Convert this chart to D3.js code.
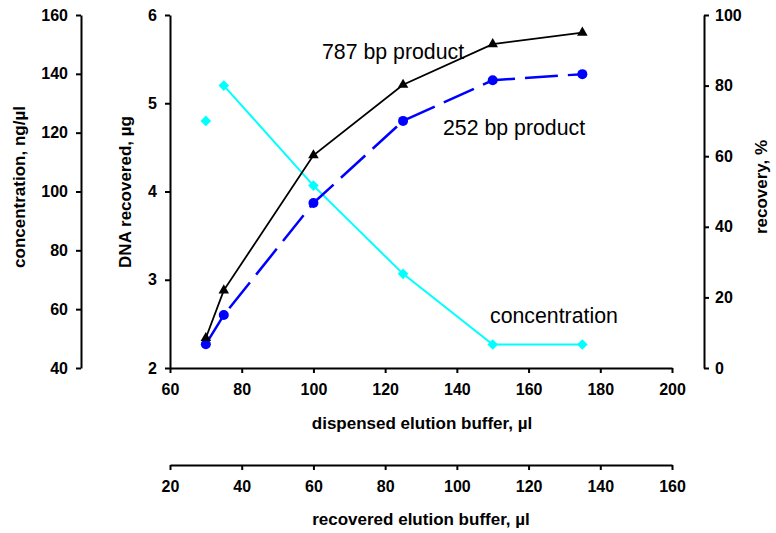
<!DOCTYPE html>
<html>
<head>
<meta charset="utf-8">
<script src="https://cdn.jsdelivr.net/npm/d3@7"></script>
<style>
  body { margin: 0; background: #fff; }
  svg { display: block; font-family: "Liberation Sans", Arial, sans-serif; }
  .axis text { font-family: "Liberation Sans", Arial, sans-serif; font-weight: bold; font-size: 16px; fill: #000; }
  .axis path, .axis line { stroke: #000; stroke-width: 2px; }
  .title { font-weight: bold; font-size: 17px; }
  .note { font-size: 21.3px; }
</style>
</head>
<body>
<script>
//Data.
const dispensed = [70, 75, 100, 125, 150, 175];
const dna787 = [2.34, 2.88, 4.41, 5.21, 5.67, 5.80];
const dna252 = [2.27, 2.60, 3.87, 4.80, 5.26, 5.33];
const concentration = [124, 136, 102, 72, 48, 48];

const xTicks = [60, 80, 100, 120, 140, 160, 180, 200];
const recTicks = [20, 40, 60, 80, 100, 120, 140, 160];
const concTicks = [40, 60, 80, 100, 120, 140, 160];
const dnaTicks = [2, 3, 4, 5, 6];
const recoveryTicks = [0, 20, 40, 60, 80, 100];

const width = 776, height = 533;
const plot = {left: 170, right: 672, top: 15, bottom: 368};

const svg = d3.select("body").append("svg").attr("width", width).attr("height", height);

//Scales.
const x = d3.scaleLinear().domain([60, 200]).range([plot.left, plot.right]);
const xRec = d3.scaleLinear().domain([20, 160]).range([plot.left, plot.right]);
const yDna = d3.scaleLinear().domain([2, 6]).range([plot.bottom, plot.top]);
const yConc = d3.scaleLinear().domain([40, 160]).range([plot.bottom, plot.top]);
const yRecovery = d3.scaleLinear().domain([0, 100]).range([plot.bottom, plot.top]);

function styleAxis(g) {
    g.attr("class", "axis").attr("font-family", null).attr("font-size", null);
}

//Left concentration axis.
svg.append("g")
.attr("transform", "translate(81,0)")
.call(d3.axisLeft(yConc).tickValues(concTicks).tickSize(5).tickSizeOuter(0).tickPadding(8))
.call(styleAxis);

//DNA axis.
svg.append("g")
.attr("transform", "translate(" + plot.left + ",0)")
.call(d3.axisLeft(yDna).tickValues(dnaTicks).tickFormat(d3.format("d")).tickSize(5).tickSizeOuter(0).tickPadding(8))
.call(styleAxis);

//Right recovery axis.
svg.append("g")
.attr("transform", "translate(704,0)")
.call(d3.axisRight(yRecovery).tickValues(recoveryTicks).tickSize(5).tickSizeOuter(0).tickPadding(6))
.call(styleAxis);

//Dispensed x axis.
svg.append("g")
.attr("transform", "translate(0," + plot.bottom + ")")
.call(d3.axisBottom(x).tickValues(xTicks).tickSize(5).tickSizeOuter(0).tickPadding(11))
.call(styleAxis);

//Recovered x axis.
svg.append("g")
.attr("transform", "translate(0,465)")
.call(d3.axisBottom(xRec).tickValues(recTicks).tickSize(5).tickSizeOuter(0).tickPadding(11))
.call(styleAxis);

//Axis titles.
svg.append("text").attr("class", "title").attr("text-anchor", "middle")
.attr("transform", "translate(25,187) rotate(-90)").text("concentration, ng/µl");
svg.append("text").attr("class", "title").attr("text-anchor", "middle")
.attr("transform", "translate(131,192) rotate(-90)").text("DNA recovered, µg");
svg.append("text").attr("class", "title").attr("text-anchor", "middle")
.attr("transform", "translate(767,187) rotate(-90)").text("recovery, %");
svg.append("text").attr("class", "title").attr("text-anchor", "middle")
.attr("x", 422).attr("y", 429).text("dispensed elution buffer, µl");
svg.append("text").attr("class", "title").attr("text-anchor", "middle")
.attr("x", 421).attr("y", 525).text("recovered elution buffer, µl");

//Series.
const idx = d3.range(dispensed.length);

const line787 = d3.line().x((i) => x(dispensed[i])).y((i) => yDna(dna787[i]));
const line252 = d3.line().x((i) => x(dispensed[i])).y((i) => yDna(dna252[i]));
const lineConc = d3.line().x((i) => x(dispensed[i])).y((i) => yConc(concentration[i]));

//The first concentration point stands alone.
svg.append("path").datum(idx.slice(1)).attr("d", lineConc)
.attr("fill", "none").attr("stroke", "#00ffff").attr("stroke-width", 2);

svg.append("path").datum(idx).attr("d", line252)
.attr("fill", "none").attr("stroke", "#0000ff").attr("stroke-width", 2.5)
.attr("stroke-dasharray", "33,10");

svg.append("path").datum(idx).attr("d", line787)
.attr("fill", "none").attr("stroke", "#000").attr("stroke-width", 1.8);

svg.selectAll(".diamond").data(idx).enter().append("path")
.attr("transform", (i) => "translate(" + x(dispensed[i]) + "," + yConc(concentration[i]) + ")")
.attr("d", d3.symbol(d3.symbolDiamond2, 72))
.attr("fill", "#00ffff");

svg.selectAll(".dot").data(idx).enter().append("circle")
.attr("cx", (i) => x(dispensed[i])).attr("cy", (i) => yDna(dna252[i]))
.attr("r", 5).attr("fill", "#0000ff");

svg.selectAll(".tri").data(idx).enter().append("path")
.attr("transform", (i) => "translate(" + x(dispensed[i]) + "," + yDna(dna787[i]) + ")")
.attr("d", d3.symbol(d3.symbolTriangle, 48))
.attr("fill", "#000");

//Labels on the series.
svg.append("text").attr("class", "note").attr("x", 322).attr("y", 59).text("787 bp product");
svg.append("text").attr("class", "note").attr("x", 443).attr("y", 135).text("252 bp product");
svg.append("text").attr("class", "note").attr("x", 490).attr("y", 323).text("concentration");
</script>
</body>
</html>
